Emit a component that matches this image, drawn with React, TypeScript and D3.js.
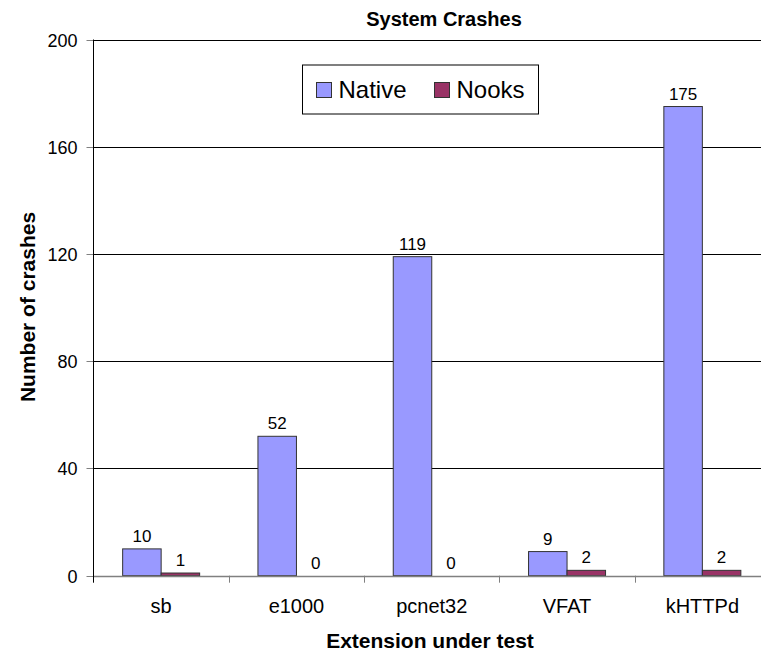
import { useEffect, useRef } from "react";
import * as d3 from "d3";

// chart data
const categories = ["sb", "e1000", "pcnet32", "VFAT", "kHTTPd"];
const nativeValues = [10, 52, 119, 9, 175];
const nooksValues = [1, 0, 0, 2, 2];
const seriesNames = ["Native", "Nooks"];
const seriesColors = ["#9999FF", "#993366"];
const yTicks = [0, 40, 80, 120, 160, 200];

const WIDTH = 761;
const HEIGHT = 652;
const FONT = "Arial, 'Liberation Sans', Helvetica, sans-serif";

const App = () => {
  const svgRef = useRef<SVGSVGElement | null>(null);

  useEffect(() => {
    const svg = d3.select(svgRef.current);
    svg.selectAll("*").remove();

    const margin = { left: 93.5, top: 39.5 };
    const bandWidth = 135.3;
    const barWidth = 38.5;
    const plotBottom = 575.7;

    // x: one band per extension, the plot runs past the right edge of the picture
    const x0 = d3
      .scaleBand<string>()
      .domain(categories)
      .range([margin.left, margin.left + bandWidth * categories.length]);

    // the two bars sit side by side in the middle of each band
    const x1 = d3
      .scaleBand<string>()
      .domain(seriesNames)
      .range([bandWidth / 2 - barWidth, bandWidth / 2 + barWidth]);

    const y = d3.scaleLinear().domain([0, 200]).range([plotBottom, margin.top]);

    const g = svg.append("g").style("font-family", FONT);

    // gridlines
    g.selectAll(".grid")
      .data(yTicks.filter((t) => t > 0))
      .join("line")
      .attr("x1", margin.left)
      .attr("x2", WIDTH + 20)
      .attr("y1", (d) => Math.round(y(d)) + 0.5)
      .attr("y2", (d) => Math.round(y(d)) + 0.5)
      .attr("stroke", "#000")
      .attr("stroke-width", 1);

    // y ticks and labels
    yTicks.forEach((t) => {
      const yy = Math.round(y(t)) + 0.5;
      g.append("line")
        .attr("x1", margin.left - 7)
        .attr("x2", margin.left)
        .attr("y1", yy)
        .attr("y2", yy)
        .attr("stroke", "#808080");
      g.append("text")
        .attr("x", margin.left - 16)
        .attr("y", yy)
        .attr("dy", "0.36em")
        .attr("text-anchor", "end")
        .attr("font-size", 18)
        .attr("fill", "#000")
        .text(t);
    });

    // bars
    const data = categories.map((c, i) => ({
      cat: c,
      values: [nativeValues[i], nooksValues[i]],
    }));

    const groups = g
      .selectAll(".cat")
      .data(data)
      .join("g")
      .attr("transform", (d) => `translate(${x0(d.cat)},0)`);

    groups.each(function (d) {
      const grp = d3.select(this);
      d.values.forEach((v, si) => {
        const bx = x1(seriesNames[si]) as number;
        const bw = x1.bandwidth();
        if (v > 0) {
          grp
            .append("rect")
            .attr("x", bx)
            .attr("y", y(v))
            .attr("width", bw)
            .attr("height", plotBottom - y(v))
            .attr("fill", seriesColors[si])
            .attr("stroke", "#333")
            .attr("stroke-width", 1);
        }
        grp
          .append("text")
          .attr("x", bx + bw / 2)
          .attr("y", y(v) - 7)
          .attr("text-anchor", "middle")
          .attr("font-size", 17)
          .attr("fill", "#000")
          .text(v);
      });
    });

    // axes lines
    g.append("line")
      .attr("x1", margin.left)
      .attr("x2", WIDTH + 20)
      .attr("y1", Math.round(plotBottom) + 0.5)
      .attr("y2", Math.round(plotBottom) + 0.5)
      .attr("stroke", "#808080")
      .attr("stroke-width", 1.5);

    g.append("line")
      .attr("x1", margin.left)
      .attr("x2", margin.left)
      .attr("y1", margin.top)
      .attr("y2", plotBottom + 7)
      .attr("stroke", "#000");

    // category ticks between bands
    categories.slice(1).forEach((c) => {
      const xx = Math.round(x0(c) as number) + 0.5;
      g.append("line")
        .attr("x1", xx)
        .attr("x2", xx)
        .attr("y1", plotBottom)
        .attr("y2", plotBottom + 7)
        .attr("stroke", "#808080");
    });

    // category labels
    g.selectAll(".catLabel")
      .data(categories)
      .join("text")
      .attr("x", (d) => (x0(d) as number) + bandWidth / 2)
      .attr("y", 613)
      .attr("text-anchor", "middle")
      .attr("font-size", 20)
      .attr("fill", "#000")
      .text((d) => d);

    // titles
    g.append("text")
      .attr("x", 444)
      .attr("y", 26)
      .attr("text-anchor", "middle")
      .attr("font-size", 20)
      .attr("font-weight", "bold")
      .text("System Crashes");

    g.append("text")
      .attr("x", 430)
      .attr("y", 648)
      .attr("text-anchor", "middle")
      .attr("font-size", 21)
      .attr("font-weight", "bold")
      .text("Extension under test");

    g.append("text")
      .attr("transform", "translate(35, 307) rotate(-90)")
      .attr("text-anchor", "middle")
      .attr("font-size", 21)
      .attr("font-weight", "bold")
      .text("Number of crashes");

    // legend
    const legend = g.append("g").attr("transform", "translate(302.5,65)");
    legend
      .append("rect")
      .attr("width", 236)
      .attr("height", 49)
      .attr("fill", "#fff")
      .attr("stroke", "#000")
      .attr("stroke-width", 1);
    const legendX = [14, 132];
    seriesNames.forEach((name, i) => {
      legend
        .append("rect")
        .attr("x", legendX[i])
        .attr("y", 17.5)
        .attr("width", 15)
        .attr("height", 15)
        .attr("fill", seriesColors[i])
        .attr("stroke", "#333");
      legend
        .append("text")
        .attr("x", legendX[i] + 22)
        .attr("y", 33)
        .attr("font-size", 24)
        .attr("fill", "#000")
        .text(name);
    });
  }, []);

  return (
    <svg
      ref={svgRef}
      width={WIDTH}
      height={HEIGHT}
      style={{ position: "absolute", left: 0, top: 0, background: "#fff" }}
    />
  );
};

export default App;
